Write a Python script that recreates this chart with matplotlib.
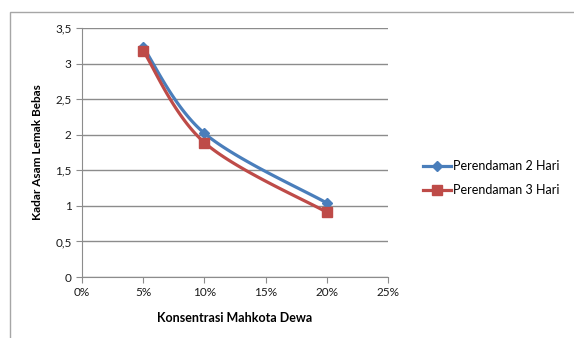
import numpy as np
import matplotlib
matplotlib.use("Agg")
import matplotlib.pyplot as plt
from matplotlib.patches import Rectangle
from matplotlib.lines import Line2D

konsentrasi = [0.05, 0.10, 0.20]
hari2 = [3.23, 2.02, 1.04]
hari3 = [3.18, 1.89, 0.91]
series_names = ["Perendaman 2 Hari", "Perendaman 3 Hari"]
x_ticks = [0, 0.05, 0.10, 0.15, 0.20, 0.25]
x_labels = ["0%", "5%", "10%", "15%", "20%", "25%"]
y_ticks = [0, 0.5, 1, 1.5, 2, 2.5, 3, 3.5]
y_labels = ["0", "0,5", "1", "1,5", "2", "2,5", "3", "3,5"]

BLUE = "#4A7EBB"
RED = "#BE4B48"

plt.rcParams['font.family'] = ['Lato', 'DejaVu Sans']


def smooth(xs, ys, n=40):
    xs = np.asarray(xs, float); ys = np.asarray(ys, float)
    P = np.column_stack([xs, ys])
    P = np.vstack([P[0], P, P[-1]])
    out = []
    for i in range(1, len(P) - 2):
        p0, p1, p2, p3 = P[i - 1], P[i], P[i + 1], P[i + 2]
        c1 = p1 + (p2 - p0) / 6.0
        c2 = p2 - (p3 - p1) / 6.0
        t = np.linspace(0, 1, n)[:, None]
        seg = ((1 - t) ** 3) * p1 + 3 * ((1 - t) ** 2) * t * c1 + 3 * (1 - t) * t ** 2 * c2 + t ** 3 * p2
        out.append(seg if i == 1 else seg[1:])
    s = np.vstack(out)
    return s[:, 0], s[:, 1]


fig = plt.figure(figsize=(5.74, 3.38), dpi=100)
fig.patches.append(Rectangle((10 / 574, -0.1), 2, 1.1 - 12 / 338,
                             transform=fig.transFigure, fill=False,
                             edgecolor="#A6A6A6", linewidth=1.0))
ax = fig.add_axes([82 / 574, 1 - 277 / 338, (388 - 82) / 574, (277 - 28) / 338])

for ys, col, mk, ms in [(hari2, BLUE, "D", 5), (hari3, RED, "s", 7.5)]:
    sx, sy = smooth(konsentrasi, ys)
    ax.plot(sx, sy, color=col, linewidth=2.3, solid_capstyle="round", zorder=3)
    ax.plot(konsentrasi, ys, linestyle="none", marker=mk, markersize=ms,
            color=col, markeredgecolor=col, zorder=4)

ax.set_xlim(0, 0.25)
ax.set_ylim(0, 3.5)
ax.set_xticks(x_ticks)
ax.set_xticklabels(x_labels)
ax.set_yticks(y_ticks)
ax.set_yticklabels(y_labels)
ax.yaxis.grid(True, color="#8C8C8C", linewidth=1.0)
ax.set_axisbelow(True)
for s in ["top", "right"]:
    ax.spines[s].set_visible(False)
for s in ["left", "bottom"]:
    ax.spines[s].set_color("#8C8C8C")
ax.tick_params(axis="both", colors="#8C8C8C", labelcolor="#1a1a1a", labelsize=8.5,
               direction="out", length=4)
ax.set_xlabel("Konsentrasi Mahkota Dewa", fontsize=9, fontweight="bold", labelpad=10)
ax.set_ylabel("Kadar Asam Lemak Bebas", fontsize=8.5, fontweight="bold", labelpad=9)

handles = [Line2D([], [], color=BLUE, marker="D", markersize=5, linewidth=2.3),
           Line2D([], [], color=RED, marker="s", markersize=7.5, linewidth=2.3)]
fig.legend(handles, series_names, loc="center left", bbox_to_anchor=(412 / 574, 1 - 178 / 338),
           frameon=False, fontsize=9, handlelength=2.2, handletextpad=0.15, labelspacing=0.95)

fig.savefig("out.png", dpi=100)
